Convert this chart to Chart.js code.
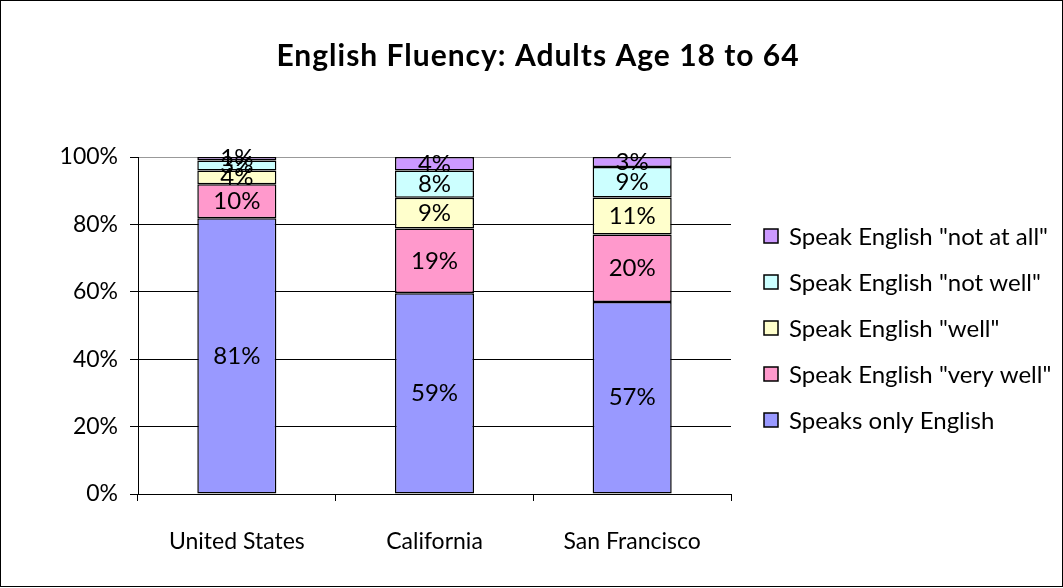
<!DOCTYPE html>
<html>
<head>
<meta charset="utf-8">
<script src="https://cdn.jsdelivr.net/npm/chart.js@4"></script>
<style>
  html, body { margin: 0; padding: 0; background: #fff; }
  #wrap { width: 1063px; height: 588px; }
</style>
</head>
<body>
<div id="wrap"><canvas id="fluencyChart" width="1063" height="588"></canvas></div>
<script>
var categories = ["United States", "California", "San Francisco"];
var onlyEnglish = [81, 59, 57];
var veryWell = [10, 19, 20];
var well = [4, 9, 11];
var notWell = [3, 8, 9];
var notAtAll = [1, 4, 3];
var yTicks = [0, 20, 40, 60, 80, 100];
var chartTitle = "English Fluency: Adults Age 18 to 64";

var FONT = "Lato, 'Open Sans', sans-serif";

// excel-style 100% stacked: each column scaled to its own total
var totals = categories.map(function (c, i) {
  return onlyEnglish[i] + veryWell[i] + well[i] + notWell[i] + notAtAll[i];
});
function share(arr) {
  return arr.map(function (v, i) { return v / totals[i] * 100; });
}

function makeSet(label, values, color) {
  return {
    label: label,
    raw: values,
    data: share(values),
    backgroundColor: color,
    borderColor: "#000",
    borderWidth: 1.5,
    borderSkipped: false,
    categoryPercentage: 1,
    barPercentage: 0.4,
  };
}

var segmentLabels = {
  id: "segmentLabels",
  afterDatasetsDraw: function (chart) {
    var ctx = chart.ctx;
    ctx.save();
    ctx.font = "24px " + FONT;
    ctx.fillStyle = "#000";
    ctx.textAlign = "center";
    ctx.textBaseline = "middle";
    chart.data.datasets.forEach(function (ds, di) {
      chart.getDatasetMeta(di).data.forEach(function (bar, i) {
        var mid = (bar.y + bar.base) / 2;
        ctx.fillText(ds.raw[i] + "%", bar.x, mid);
      });
    });
    ctx.restore();
  },
};

// title, legend on the right and the outer frame
var decorations = {
  id: "decorations",
  afterDraw: function (chart) {
    var ctx = chart.ctx;
    ctx.save();
    ctx.fillStyle = "#000";
    ctx.textAlign = "center";
    ctx.textBaseline = "middle";
    ctx.font = "bold 30px " + FONT;
    ctx.letterSpacing = "1px";
    ctx.fillText(chartTitle, 538, 56);
    ctx.letterSpacing = "0px";

    var sets = chart.data.datasets.slice().reverse();
    ctx.font = "24px " + FONT;
    ctx.textAlign = "left";
    sets.forEach(function (ds, k) {
      var y = 236 + k * 46;
      ctx.fillStyle = ds.backgroundColor;
      ctx.fillRect(764, y - 7, 14, 14);
      ctx.strokeStyle = "#000";
      ctx.lineWidth = 1.5;
      ctx.strokeRect(764, y - 7, 14, 14);
      ctx.fillStyle = "#000";
      ctx.fillText(ds.label, 789, y + 1);
    });
    ctx.lineWidth = 1;
    ctx.strokeRect(0.5, 0.5, 1062, 586);
    ctx.restore();
  },
};

var ctx = document.getElementById("fluencyChart").getContext("2d");
var fluencyChart = new Chart(ctx, {
  type: "bar",
  data: {
    labels: categories,
    datasets: [
      makeSet("Speaks only English", onlyEnglish, "#9999FF"),
      makeSet("Speak English \"very well\"", veryWell, "#FF99CC"),
      makeSet("Speak English \"well\"", well, "#FFFFCC"),
      makeSet("Speak English \"not well\"", notWell, "#CCFFFF"),
      makeSet("Speak English \"not at all\"", notAtAll, "#CC99FF"),
    ],
  },
  options: {
    responsive: false,
    animation: false,
    layout: {
      padding: { left: 0, right: 332, top: 157, bottom: 0 },
    },
    plugins: {
      legend: { display: false },
      tooltip: { enabled: false },
      title: { display: false },
    },
    scales: {
      x: {
        stacked: true,
        offset: true,
        grid: {
          display: true,
          offset: true,
          drawOnChartArea: false,
          tickLength: 7,
          tickColor: "#000",
        },
        border: { color: "#000", width: 1 },
        ticks: {
          color: "#000",
          font: { family: FONT, size: 23 },
          padding: 27,
        },
        afterFit: function (scale) { scale.height = 94; },
      },
      y: {
        stacked: true,
        min: 0,
        max: 100,
        afterBuildTicks: function (scale) {
          scale.ticks = yTicks.map(function (v) { return { value: v }; });
        },
        grid: {
          color: function (c) { return c.tick && c.tick.value === 100 ? "#999" : "#000"; },
          tickLength: 8,
          tickColor: "#000",
        },
        border: { color: "#000", width: 1 },
        ticks: {
          color: "#000",
          font: { family: FONT, size: 23 },
          padding: 12,
          callback: function (v) { return v + "%"; },
        },
        afterFit: function (scale) { scale.width = 138; },
      },
    },
  },
  plugins: [segmentLabels, decorations],
});
</script>
</body>
</html>
